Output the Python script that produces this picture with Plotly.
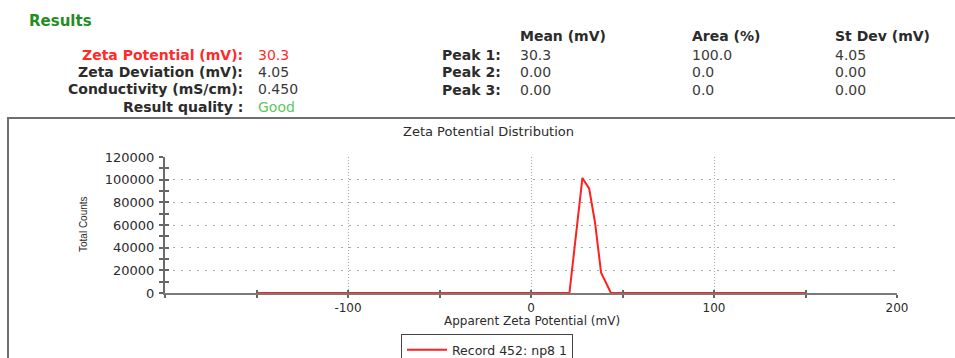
import plotly.graph_objects as go

# ---------------- data ----------------
zeta_mv = [-150, 21.0, 28.1, 31.8, 35.0, 38.3, 43.7, 150]
total_counts = [0, 0, 101500, 92000, 62000, 18000, 0, 0]
series_name = "Record 452: np8 1"

x_tick_vals = [-100, 0, 100, 200]
x_tick_text = ["-100", "0", "100", "200"]
y_tick_vals = [0, 20000, 40000, 60000, 80000, 100000, 120000]
y_tick_text = ["0", "20000", "40000", "60000", "80000", "100000", "120000"]

summary_labels = ["Zeta Potential (mV):", "Zeta Deviation (mV):", "Conductivity (mS/cm):", "Result quality :"]
summary_values = ["30.3", "4.05", "0.450", "Good"]

peak_headers = ["Mean (mV)", "Area (%)", "St Dev (mV)"]
peak_labels = ["Peak 1:", "Peak 2:", "Peak 3:"]
peak_mean = ["30.3", "0.00", "0.00"]
peak_area = ["100.0", "0.0", "0.0"]
peak_stdev = ["4.05", "0.00", "0.00"]

# ---------------- layout helpers ----------------
W, H = 955, 358
L, R, T, B = 165, 897, 157, 293  # plot area in pixels


def px(x):
    return (x - L) / (R - L)


def py(y):
    return (B - y) / (B - T)


FONT = "DejaVu Sans"
TXT = "#2b2b2b"
RED = "#ff2a2a"

fig = go.Figure()
fig.add_trace(go.Scatter(
    x=zeta_mv, y=total_counts, mode="lines", name=series_name,
    line=dict(color="#ff2020", width=2), showlegend=True,
))
# same data on an overlay axis pair, only used to draw inward ticks
fig.add_trace(go.Scatter(
    x=zeta_mv, y=total_counts, mode="lines", xaxis="x2", yaxis="y2",
    line=dict(color="rgba(0,0,0,0)", width=0), showlegend=False, hoverinfo="skip",
))

ann = []


def text(x, y, s, anchor="left", color=TXT, size=14, bold=False, angle=0, family=FONT):
    ann.append(dict(
        x=px(x), y=py(y), xref="paper", yref="paper", text=f"<b>{s}</b>" if bold else s,
        showarrow=False, xanchor=anchor, yanchor="middle", textangle=angle,
        font=dict(family=family, size=size, color=color), borderpad=0,
    ))


text(28, 21, "Results", color="#1f8f1f", size=15, bold=True)

rows_y = [55, 72, 89, 107]
for i, (lab, val) in enumerate(zip(summary_labels, summary_values)):
    col = RED if i == 0 else TXT
    vcol = RED if i == 0 else ("#5cc85c" if i == 3 else "#3a3a3a")
    text(244, rows_y[i], lab, anchor="right", color=col, bold=True)
    text(257, rows_y[i], val, anchor="left", color=vcol)

cols_x = [519, 691, 834]
for hx, hd in zip(cols_x, peak_headers):
    text(hx, 36, hd, anchor="left", bold=True)
prow_y = [55, 72, 90]
for i in range(3):
    text(502, prow_y[i], peak_labels[i], anchor="right", bold=True)
    text(cols_x[0], prow_y[i], peak_mean[i], color="#3a3a3a")
    text(cols_x[1], prow_y[i], peak_area[i], color="#3a3a3a")
    text(cols_x[2], prow_y[i], peak_stdev[i], color="#3a3a3a")

# chart titles
text(488, 131, "Zeta Potential Distribution", anchor="center", size=13)
text(532, 321, "Apparent Zeta Potential (mV)", anchor="center", size=12)
text(83, 224, "Total Counts", anchor="center", size=10, angle=-90, family="Liberation Sans")

fig.update_layout(
    width=W, height=H,
    margin=dict(l=L, r=W - R, t=T, b=H - B, pad=0, autoexpand=False),
    paper_bgcolor="white", plot_bgcolor="white",
    annotations=ann,
    shapes=[dict(type="rect", xref="paper", yref="paper",
                 x0=px(8), x1=px(962), y0=py(118), y1=py(370),
                 line=dict(color="#6e6e6e", width=2), layer="below")],
    legend=dict(
        xref="container", yref="container",
        x=487 / W, y=1 - 334 / H, xanchor="center", yanchor="top",
        orientation="h", bordercolor="#444", borderwidth=1, bgcolor="white",
        font=dict(family=FONT, size=12.5, color=TXT), itemwidth=40,
    ),
    xaxis=dict(
        range=[-200, 200], tickvals=x_tick_vals, ticktext=x_tick_text, ticks="outside", ticklen=3,
        tickcolor="#666", tickwidth=1.5, ticklabelstandoff=0,
        minor=dict(dtick=50, tick0=-200, ticks="outside", ticklen=3, tickcolor="#666", showgrid=False),
        showline=True, linecolor="#7a7a7a", linewidth=2, zeroline=False,
        showgrid=True, gridcolor="#a8a8a8", griddash="1px,2px", gridwidth=1,
        tickfont=dict(family=FONT, size=12, color=TXT), fixedrange=True, automargin=False,
    ),
    yaxis=dict(
        range=[0, 120000], tickvals=y_tick_vals, ticktext=y_tick_text, ticks="outside", ticklen=4,
        tickcolor="#666", tickwidth=1.5,
        minor=dict(dtick=10000, ticks="outside", ticklen=4, tickcolor="#666", showgrid=False),
        showline=True, linecolor="#6a6a6a", linewidth=2, zeroline=False,
        showgrid=True, gridcolor="#a8a8a8", griddash="2px,6px", gridwidth=1,
        tickfont=dict(family=FONT, size=13, color=TXT), ticklabelstandoff=2, fixedrange=True,
        automargin=False,
    ),
    xaxis2=dict(
        overlaying="x", anchor="y2", side="bottom", range=[-200, 200], dtick=50, tick0=-200,
        ticks="inside", ticklen=3, tickcolor="#666", tickwidth=1.5,
        showticklabels=False, showgrid=False, showline=False, zeroline=False,
    ),
    yaxis2=dict(
        overlaying="y", anchor="x2", side="left", range=[0, 120000], dtick=10000,
        ticks="inside", ticklen=4, tickcolor="#666", tickwidth=1.5,
        showticklabels=False, showgrid=False, showline=False, zeroline=False,
    ),
)

fig.write_html("out.html")
